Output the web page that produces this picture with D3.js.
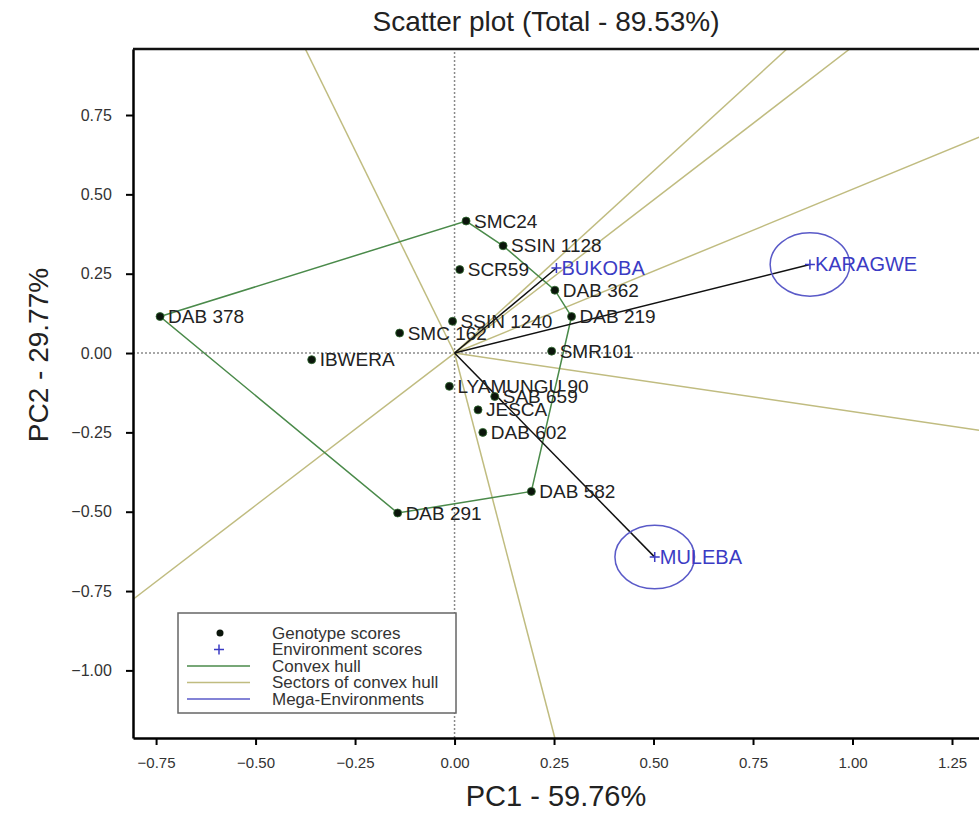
<!DOCTYPE html>
<html>
<head>
<meta charset="utf-8">
<script src="https://cdn.jsdelivr.net/npm/d3@7"></script>
<style>
  body { margin: 0; background: #fff; }
  svg { font-family: "Liberation Sans", Arial, sans-serif; }
</style>
</head>
<body>
<div id="chart"></div>
<script>
// genotype scores (PC1, PC2)
const genotypes = ["SMC24", "SSIN 1128", "SCR59", "DAB 362", "DAB 219", "SSIN 1240", "SMC 162", "DAB 378",
    "IBWERA", "SMR101", "LYAMUNGU 90", "SAB 659", "JESCA", "DAB 602", "DAB 582", "DAB 291"];
const genoPC1 = [0.029, 0.122, 0.013, 0.252, 0.294, -0.005, -0.138, -0.740,
    -0.359, 0.244, -0.013, 0.101, 0.059, 0.071, 0.193, -0.143];
const genoPC2 = [0.416, 0.338, 0.263, 0.198, 0.115, 0.100, 0.063, 0.115,
    -0.021, 0.006, -0.105, -0.137, -0.179, -0.250, -0.436, -0.504];

// environment scores
const environments = ["BUKOBA", "KARAGWE", "MULEBA"];
const envPC1 = [0.256, 0.893, 0.503];
const envPC2 = [0.268, 0.279, -0.643];
const megaEnvs = ["KARAGWE", "MULEBA"];
const megaRadius = 0.1;

// convex hull vertices, in order
const hull = ["DAB 378", "SMC24", "SSIN 1128", "DAB 362", "DAB 219", "DAB 582", "DAB 291"];

// sector lines: end points
const sectorPC1 = [0.835, 0.993, 1.318, 1.318, 0.252, -0.810, -0.375];
const sectorPC2 = [0.958, 0.958, 0.680, -0.243, -1.213, -0.778, 0.958];

const xTicks = [-0.75, -0.5, -0.25, 0, 0.25, 0.5, 0.75, 1.0, 1.25];
const yTicks = [0.75, 0.5, 0.25, 0, -0.25, -0.5, -0.75, -1.0];

const legendLabels = ["Genotype scores", "Environment scores", "Convex hull", "Sectors of convex hull", "Mega-Environments"];

const width = 979, height = 815;
const margin = { top: 49, right: -12, bottom: 77, left: 133 };

const hullColor = "#4a8a4a", sectorColor = "#c0bc80", envColor = "#3b3bc4", circleColor = "#5a5ac8";

const svg = d3.select("#chart").append("svg")
    .attr("width", width)
    .attr("height", height);

const x = d3.scaleLinear()
    .domain([-0.808, 1.348])
    .range([margin.left, width - margin.right]);
const y = d3.scaleLinear()
    .domain([-1.213, 0.958])
    .range([height - margin.bottom, margin.top]);

svg.append("clipPath").attr("id", "plot-clip")
    .append("rect")
    .attr("x", margin.left).attr("y", margin.top)
    .attr("width", width - margin.right - margin.left)
    .attr("height", height - margin.bottom - margin.top);

const plot = svg.append("g").attr("clip-path", "url(#plot-clip)");

// dotted zero lines
plot.append("line")
    .attr("x1", x(0)).attr("x2", x(0))
    .attr("y1", y.range()[0]).attr("y2", y.range()[1])
    .attr("stroke", "#8a8a8a").attr("stroke-width", 1.5).attr("stroke-dasharray", "2,2");
plot.append("line")
    .attr("x1", x.range()[0]).attr("x2", x.range()[1])
    .attr("y1", y(0)).attr("y2", y(0))
    .attr("stroke", "#8a8a8a").attr("stroke-width", 1.5).attr("stroke-dasharray", "2,2");

// sectors
plot.selectAll(".sector")
    .data(sectorPC1.map((v, i) => [v, sectorPC2[i]]))
    .enter().append("line")
    .attr("class", "sector")
    .attr("x1", x(0)).attr("y1", y(0))
    .attr("x2", d => x(d[0])).attr("y2", d => y(d[1]))
    .attr("stroke", sectorColor).attr("stroke-width", 1.5);

// convex hull
const genoIndex = name => genotypes.indexOf(name);
const hullPts = hull.map(n => [genoPC1[genoIndex(n)], genoPC2[genoIndex(n)]]);
plot.append("path")
    .datum(hullPts)
    .attr("fill", "none")
    .attr("stroke", hullColor)
    .attr("stroke-width", 1.5)
    .attr("d", d3.line().x(d => x(d[0])).y(d => y(d[1])).curve(d3.curveLinearClosed));

// environment vectors
plot.selectAll(".envvec")
    .data(environments)
    .enter().append("line")
    .attr("x1", x(0)).attr("y1", y(0))
    .attr("x2", (d, i) => x(envPC1[i])).attr("y2", (d, i) => y(envPC2[i]))
    .attr("stroke", "#111").attr("stroke-width", 1.5);

// mega-environment circles
plot.selectAll(".mega")
    .data(megaEnvs)
    .enter().append("ellipse")
    .attr("cx", d => x(envPC1[environments.indexOf(d)]))
    .attr("cy", d => y(envPC2[environments.indexOf(d)]))
    .attr("rx", x(megaRadius) - x(0))
    .attr("ry", y(0) - y(megaRadius))
    .attr("fill", "none")
    .attr("stroke", circleColor).attr("stroke-width", 1.5);

// genotype points
plot.selectAll(".geno")
    .data(genotypes)
    .enter().append("circle")
    .attr("cx", (d, i) => x(genoPC1[i]))
    .attr("cy", (d, i) => y(genoPC2[i]))
    .attr("r", 4)
    .attr("fill", "#0b150b")
    .attr("stroke", "#2f6a2f").attr("stroke-width", 0.8);

plot.selectAll(".genolab")
    .data(genotypes)
    .enter().append("text")
    .attr("x", (d, i) => x(genoPC1[i]) + 8)
    .attr("y", (d, i) => y(genoPC2[i]))
    .attr("dy", "0.35em")
    .attr("font-size", 19)
    .attr("fill", "#222")
    .text(d => d);

// environment points
plot.selectAll(".env")
    .data(environments)
    .enter().append("path")
    .attr("transform", (d, i) => `translate(${x(envPC1[i])},${y(envPC2[i])})`)
    .attr("d", "M-5,0H5M0,-5V5")
    .attr("stroke", envColor).attr("stroke-width", 1.5).attr("fill", "none");

plot.selectAll(".envlab")
    .data(environments)
    .enter().append("text")
    .attr("x", (d, i) => x(envPC1[i]) + 5)
    .attr("y", (d, i) => y(envPC2[i]))
    .attr("dy", "0.35em")
    .attr("font-size", 20)
    .attr("fill", envColor)
    .text(d => d);

// axes
const xAxis = g => g
    .attr("transform", `translate(0,${height - margin.bottom})`)
    .call(d3.axisBottom(x).tickValues(xTicks).tickFormat(d3.format(".2f")).tickSize(7).tickSizeOuter(0))
    .call(g => g.select(".domain").attr("stroke-width", 2.5))
    .call(g => g.selectAll(".tick line").attr("stroke-width", 2))
    .call(g => g.selectAll(".tick text").attr("font-size", 15).attr("fill", "#333").attr("dy", "1.3em"));

const yAxis = g => g
    .attr("transform", `translate(${margin.left},0)`)
    .call(d3.axisLeft(y).tickValues(yTicks).tickFormat(d3.format(".2f")).tickSize(7).tickSizeOuter(0))
    .call(g => g.select(".domain").attr("stroke-width", 2.5))
    .call(g => g.selectAll(".tick line").attr("stroke-width", 2))
    .call(g => g.selectAll(".tick text").attr("font-size", 16).attr("fill", "#333").attr("dx", "-0.7em"));

svg.append("g").call(xAxis);
svg.append("g").call(yAxis);

// top frame
svg.append("line")
    .attr("x1", margin.left).attr("x2", width)
    .attr("y1", margin.top).attr("y2", margin.top)
    .attr("stroke", "#111").attr("stroke-width", 2.5);

// titles
svg.append("text")
    .attr("x", 546).attr("y", 31)
    .attr("text-anchor", "middle")
    .attr("font-size", 28).attr("fill", "#222")
    .text("Scatter plot (Total - 89.53%)");

svg.append("text")
    .attr("x", 556).attr("y", 806)
    .attr("text-anchor", "middle")
    .attr("font-size", 29).attr("fill", "#222")
    .text("PC1 - 59.76%");

svg.append("text")
    .attr("transform", "translate(48,355) rotate(-90)")
    .attr("text-anchor", "middle")
    .attr("font-size", 28).attr("fill", "#222")
    .text("PC2 - 29.77%");

// legend
const legend = svg.append("g");
legend.append("rect")
    .attr("x", 178).attr("y", 613)
    .attr("width", 278).attr("height", 100)
    .attr("fill", "#fff")
    .attr("stroke", "#666").attr("stroke-width", 1.5);

const rows = legend.selectAll(".row")
    .data(legendLabels)
    .enter().append("g")
    .attr("transform", (d, i) => `translate(0,${633 + i * 16.5})`);

rows.append("text")
    .attr("x", 272).attr("dy", "0.35em")
    .attr("font-size", 17).attr("fill", "#333")
    .text(d => d);

rows.filter((d, i) => i === 0).append("circle")
    .attr("cx", 220).attr("r", 3.5).attr("fill", "#0b150b");
rows.filter((d, i) => i === 1).append("path")
    .attr("d", "M214,0H224M219,-5V5")
    .attr("stroke", envColor).attr("stroke-width", 1.5);
rows.filter((d, i) => i >= 2).append("line")
    .attr("x1", 187).attr("x2", 250)
    .attr("stroke", (d, i) => [hullColor, sectorColor, circleColor][i])
    .attr("stroke-width", 1.5);
</script>
</body>
</html>
